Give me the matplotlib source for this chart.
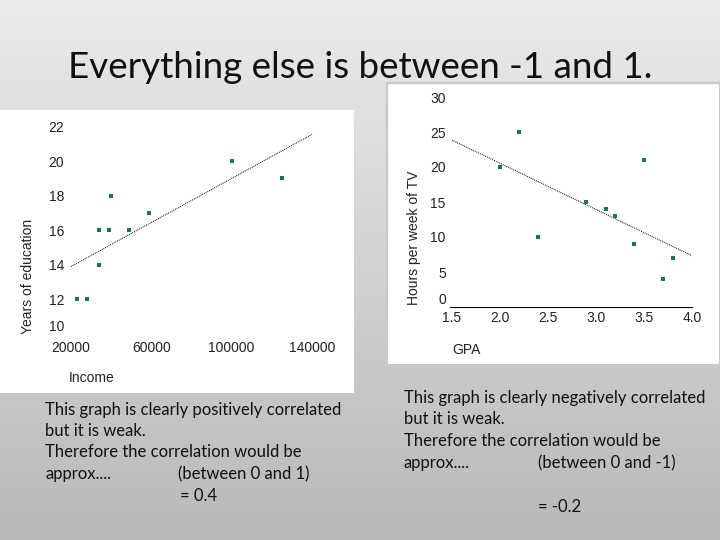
import numpy as np
import matplotlib
matplotlib.use("Agg")
import matplotlib.pyplot as plt
from matplotlib.patches import Rectangle

# ---- data ----
income = [23000, 28000, 34000, 34000, 39000, 40000, 49000, 59000, 100000, 125000]
education = [12, 12, 14, 16, 16, 18, 16, 17, 20, 19]
income_ticks = [20000, 60000, 100000, 140000]
edu_ticks = [10, 12, 14, 16, 18, 20, 22]

gpa = [2.0, 2.2, 2.4, 2.9, 3.1, 3.2, 3.4, 3.5, 3.7, 3.8]
tv_hours = [20, 25, 10, 15, 14, 13, 9, 21, 4, 7]
gpa_ticks = [1.5, 2.0, 2.5, 3.0, 3.5, 4.0]
tv_ticks = [0, 5, 10, 15, 20, 25, 30]

title = "Everything else is between -1 and 1."
left_text = ["This graph is clearly positively correlated",
             "but it is weak.",
             "Therefore the correlation would be",
             "approx....", ]
right_text = ["This graph is clearly negatively correlated",
              "but it is weak.",
              "Therefore the correlation would be",
              "approx...."]

W, H = 720, 540
fig = plt.figure(figsize=(7.2, 5.4), dpi=100)

def fx(px):
    return px / W

def fy(py):
    return 1 - py / H

# background gradient
bg = fig.add_axes([0, 0, 1, 1], zorder=-10)
grad = np.linspace(0, 1, 256)[:, None]
top = np.array([0.92, 0.92, 0.92])
bot = np.array([0.725, 0.725, 0.725])
img = top[None, None, :] * (1 - grad[..., None]) + bot[None, None, :] * grad[..., None]
img = np.repeat(img, 4, axis=1)
bg.imshow(img, aspect="auto", extent=[0, 1, 0, 1])
bg.set_xlim(0, 1); bg.set_ylim(0, 1)
bg.axis("off")

# white panels
bg.add_patch(Rectangle((fx(0), fy(393)), fx(354), (393 - 110) / H,
                       facecolor="white", edgecolor="none", zorder=2))
bg.add_patch(Rectangle((fx(387), fy(365)), fx(720 - 387), (365 - 83) / H,
                       facecolor="white", edgecolor="#c8c8c8", lw=1.5, zorder=2))

sans = ["Liberation Sans", "DejaVu Sans"]
slide = ["Lato", "DejaVu Sans"]
tc = "#222222"
mc = "#1f6e68"

# left chart
ax1 = fig.add_axes([fx(67), fy(337), fx(332 - 67), (337 - 118) / H])
ax1.set_facecolor("none")
ax1.scatter(income, education, marker="s", s=12, color=mc, zorder=3, linewidths=0)
c1 = np.polyfit(income, education, 1)
xl = np.array([income_ticks[0], income_ticks[-1]])
ax1.plot(xl, np.polyval(c1, xl), color="black", lw=0.7, ls=(0, (1, 1)))
ax1.set_xlim(18000, 150000)
ax1.set_ylim(9.8, 22.5)
ax1.set_xticks(income_ticks)
ax1.set_yticks(edu_ticks)
for s in ax1.spines.values():
    s.set_visible(False)
ax1.tick_params(length=0, labelsize=10, colors=tc, pad=2)
ax1.tick_params(axis="x", pad=3)
for lab in ax1.get_xticklabels() + ax1.get_yticklabels():
    lab.set_fontfamily(sans)
ax1.get_yticklabels()[0].set_va("bottom")
fig.text(fx(69), fy(378), "Income", fontsize=10, color=tc, family=sans,
         ha="left", va="center")
fig.text(fx(28), fy(276), "Years of education", fontsize=10, color=tc,
         family=sans, rotation=90, ha="center", va="center")

# right chart
ax2 = fig.add_axes([fx(450), fy(307), fx(692 - 450), (307 - 90) / H])
ax2.set_facecolor("none")
ax2.scatter(gpa, tv_hours, marker="s", s=12, color=mc, zorder=3, linewidths=0)
c2 = np.polyfit(gpa, tv_hours, 1)
xl2 = np.array([gpa_ticks[0], gpa_ticks[-1]])
ax2.plot(xl2, np.polyval(c2, xl2), color="black", lw=0.7, ls=(0, (1, 1)))
ax2.set_xlim(1.48, 4.0)
ax2.set_ylim(0, 31)
ax2.set_xticks(gpa_ticks)
ax2.set_yticks(tv_ticks)
for k, s in ax2.spines.items():
    s.set_visible(k == "bottom")
ax2.spines["bottom"].set_color("black")
ax2.spines["bottom"].set_linewidth(0.8)
ax2.tick_params(length=0, labelsize=10, colors=tc, pad=3)
for lab in ax2.get_xticklabels() + ax2.get_yticklabels():
    lab.set_fontfamily(sans)
ax2.get_yticklabels()[0].set_va("bottom")
fig.text(fx(452), fy(350), "GPA", fontsize=10, color=tc, family=sans,
         ha="left", va="center")
fig.text(fx(414), fy(238), "Hours per week of TV", fontsize=10, color=tc,
         family=sans, rotation=90, ha="center", va="center")

# slide text
fs = 12
fig.text(fx(360), fy(68), title, fontsize=26.5, color="#111111", family=slide,
         ha="center", va="center")
ys = [410, 431, 452, 474]
for t, y in zip(left_text, ys):
    fig.text(fx(45), fy(y), t, fontsize=fs, color="#111111", family=slide,
             ha="left", va="center")
fig.text(fx(178), fy(474), "(between 0 and 1)", fontsize=fs, color="#111111",
         family=slide, ha="left", va="center")
fig.text(fx(180), fy(496), "= 0.4", fontsize=fs, color="#111111",
         family=slide, ha="left", va="center")
ys2 = [398, 419, 441, 463]
for t, y in zip(right_text, ys2):
    fig.text(fx(404), fy(y), t, fontsize=fs, color="#111111", family=slide,
             ha="left", va="center")
fig.text(fx(538), fy(463), "(between 0 and -1)", fontsize=fs, color="#111111",
         family=slide, ha="left", va="center")
fig.text(fx(538), fy(507), "= -0.2", fontsize=fs, color="#111111",
         family=slide, ha="left", va="center")

fig.savefig("out.png", dpi=100)
